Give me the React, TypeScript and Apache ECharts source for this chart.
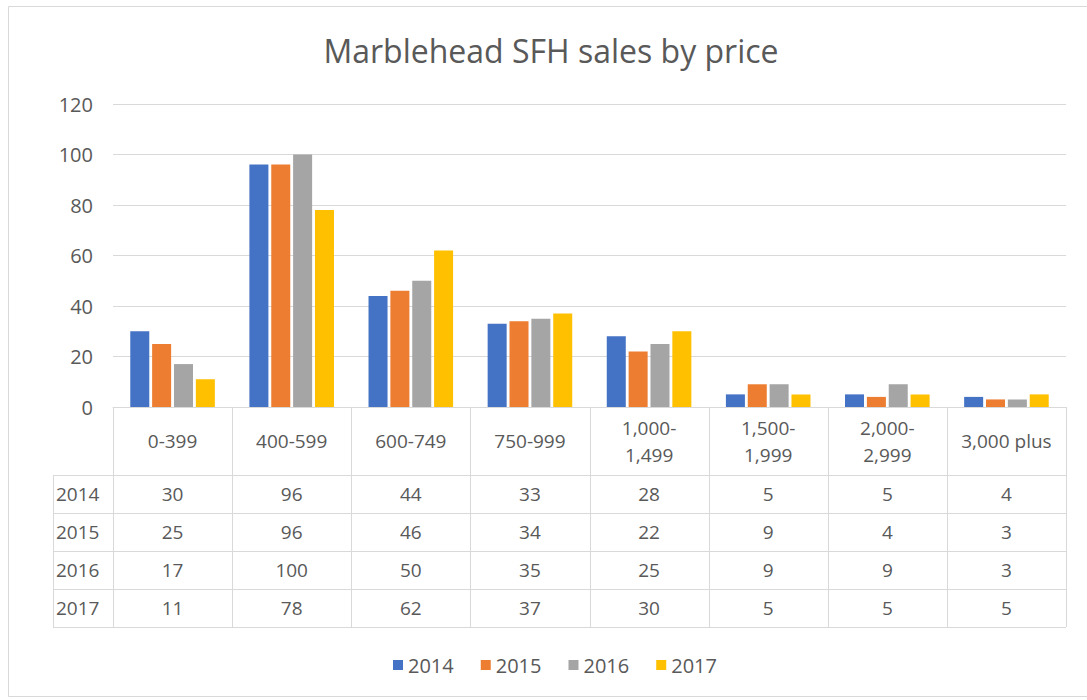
import React, { useEffect, useRef } from "react";
import * as echarts from "echarts";

const title = "Marblehead SFH sales by price";
const categories = ["0-399", "400-599", "600-749", "750-999", "1,000-\n1,499", "1,500-\n1,999", "2,000-\n2,999", "3,000 plus"];
const years = ["2014", "2015", "2016", "2017"];
const s2014 = [30, 96, 44, 33, 28, 5, 5, 4];
const s2015 = [25, 96, 46, 34, 22, 9, 4, 3];
const s2016 = [17, 100, 50, 35, 25, 9, 9, 3];
const s2017 = [11, 78, 62, 37, 30, 5, 5, 5];
const seriesValues = [s2014, s2015, s2016, s2017];
const colors = ["#4472C4", "#ED7D31", "#A5A5A5", "#FFC000"];
const yMin = 0;
const yMax = 120;
const yInterval = 20;

const FONT = "'Open Sans', sans-serif";
const TXT = "#595959";
const LINE = "#d9d9d9";
const FS = 19;

export default function App() {
  const ref = useRef<HTMLDivElement>(null);
  useEffect(() => {
    if (!ref.current) return;
    const chart = echarts.init(ref.current, undefined, { renderer: "svg" });
    const gridLeft = 113;
    const gridRight = 1066;
    const gridTop = 104;
    const gridBottom = 407;
    const colW = (gridRight - gridLeft) / categories.length;
    const tableLeft = 53;
    const headerBottom = 475;
    const rowH = 38;

    const graphic: any[] = [];
    graphic.push({
      type: "rect",
      shape: { x: 8.5, y: 6.5, width: 1090, height: 690 },
      style: { fill: "none", stroke: LINE, lineWidth: 1 },
      silent: true,
    });
    graphic.push({
      type: "text",
      x: 551,
      y: 50,
      style: { text: title, fill: TXT, fontSize: 32, fontFamily: FONT, align: "center", verticalAlign: "middle" },
    });
    const tableBottom = headerBottom + rowH * years.length;
    for (let r = 0; r <= years.length; r++) {
      const y = headerBottom + rowH * r + 0.5;
      graphic.push({ type: "line", shape: { x1: tableLeft, y1: y, x2: gridRight, y2: y }, style: { stroke: LINE, lineWidth: 1 } });
    }
    graphic.push({ type: "line", shape: { x1: tableLeft + 0.5, y1: headerBottom, x2: tableLeft + 0.5, y2: tableBottom }, style: { stroke: LINE, lineWidth: 1 } });
    for (let c = 0; c <= categories.length; c++) {
      const x = Math.round(gridLeft + colW * c) + 0.5;
      graphic.push({ type: "line", shape: { x1: x, y1: gridBottom, x2: x, y2: tableBottom }, style: { stroke: LINE, lineWidth: 1 } });
    }
    categories.forEach((cat, i) => {
      graphic.push({
        type: "text",
        x: gridLeft + colW * (i + 0.5),
        y: (gridBottom + headerBottom) / 2,
        style: { text: cat, fill: TXT, fontSize: FS, fontFamily: FONT, align: "center", verticalAlign: "middle", lineHeight: 27 },
      });
    });
    years.forEach((yr, r) => {
      const cy = headerBottom + rowH * (r + 0.5);
      graphic.push({
        type: "text",
        x: tableLeft + 3,
        y: cy,
        style: { text: yr, fill: TXT, fontSize: FS, fontFamily: FONT, align: "left", verticalAlign: "middle" },
      });
      seriesValues[r].forEach((v, i) => {
        graphic.push({
          type: "text",
          x: gridLeft + colW * (i + 0.5),
          y: cy,
          style: { text: String(v), fill: TXT, fontSize: FS, fontFamily: FONT, align: "center", verticalAlign: "middle" },
        });
      });
    });

    chart.setOption({
      animation: false,
      backgroundColor: "#ffffff",
      grid: { left: gridLeft, right: 1087 - gridRight, top: gridTop, bottom: 700 - gridBottom, containLabel: false },
      legend: {
        data: years,
        left: 388,
        top: 650,
        itemWidth: 10,
        itemHeight: 10,
        itemGap: 27,
        icon: "rect",
        textStyle: { color: TXT, fontSize: 20, fontFamily: FONT },
      },
      xAxis: {
        type: "category",
        data: categories,
        axisLine: { show: true, lineStyle: { color: LINE } },
        axisTick: { show: false },
        axisLabel: { show: false },
        splitLine: { show: false },
      },
      yAxis: {
        type: "value",
        min: yMin,
        max: yMax,
        interval: yInterval,
        axisLine: { show: false },
        axisTick: { show: false },
        axisLabel: { color: TXT, fontSize: 20, fontFamily: FONT, margin: 20 },
        splitLine: { show: true, lineStyle: { color: LINE } },
      },
      series: years.map((yr, k) => ({
        name: yr,
        type: "bar",
        data: seriesValues[k],
        itemStyle: { color: colors[k] },
        barGap: "15%",
        barCategoryGap: "29%",
      })),
      graphic,
    });
    return () => chart.dispose();
  }, []);
  return <div ref={ref} style={{ position: "fixed", left: 0, top: 0, width: 1087, height: 700 }} />;
}
